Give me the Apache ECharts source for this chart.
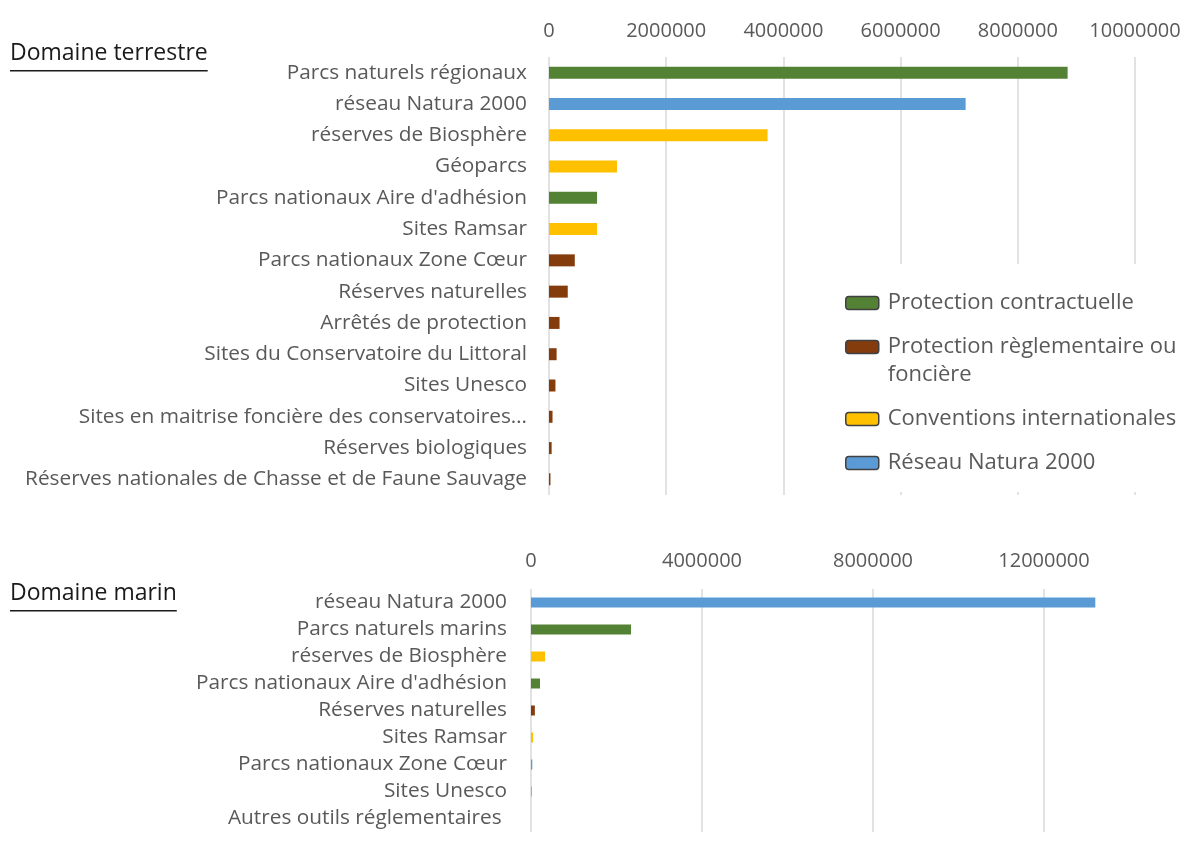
<!DOCTYPE html>
<html>
<head>
<meta charset="utf-8">
<script src="https://cdn.jsdelivr.net/npm/echarts@6/dist/echarts.min.js"></script>
<style>
  html, body { margin: 0; padding: 0; background: #fff; }
  #chart { width: 1186px; height: 852px; }
</style>
</head>
<body>
<div id="chart"></div>
<script>
// domaine terrestre
const terreCats = ['Parcs naturels régionaux', 'réseau Natura 2000', 'réserves de Biosphère', 'Géoparcs',
  "Parcs nationaux Aire d'adhésion", 'Sites Ramsar', 'Parcs nationaux Zone Cœur', 'Réserves naturelles',
  'Arrêtés de protection', 'Sites du Conservatoire du Littoral', 'Sites Unesco',
  'Sites en maitrise foncière des conservatoires…', 'Réserves biologiques',
  'Réserves nationales de Chasse et de Faune Sauvage'];
const terreContract = [8850000, null, null, null, 820000, null, null, null, null, null, null, null, null, null];
const terreRegl = [null, null, null, null, null, null, 440000, 320000, 180000, 130000, 110000, 60000, 45000, 25000];
const terreConv = [null, null, 3730000, 1160000, null, 820000, null, null, null, null, null, null, null, null];
const terreNatura = [null, 7110000, null, null, null, null, null, null, null, null, null, null, null, null];

// domaine marin
const marinCats = ['réseau Natura 2000', 'Parcs naturels marins', 'réserves de Biosphère',
  "Parcs nationaux Aire d'adhésion", 'Réserves naturelles', 'Sites Ramsar',
  'Parcs nationaux Zone Cœur', 'Sites Unesco', 'Autres outils réglementaires '];
const marinContract = [null, 2340000, null, 210000, null, null, null, null, null];
const marinRegl = [null, null, null, null, 90000, null, null, null, 0];
const marinConv = [null, null, 330000, null, null, 50000, null, null, null];
const marinNatura = [13200000, null, null, null, null, null, 30000, 15000, null];

const legendNames = ['Protection contractuelle', 'Protection règlementaire ou\nfoncière',
  'Conventions internationales', 'Réseau Natura 2000'];
const colors = ['#548235', '#843C0C', '#FFC000', '#5B9BD5'];
const titles = ['Domaine terrestre', 'Domaine marin'];

let chart = echarts.init(document.getElementById('chart'));
const font = 'Open Sans';
const labelColor = '#595959';

// largeur du texte pour le soulignement des titres
let ctx = document.createElement('canvas').getContext('2d');
ctx.font = '23px "' + font + '"';

function valueAxis(gridIndex, max, interval, margin) {
  return {
    type: 'value', gridIndex: gridIndex, position: 'top', min: 0, max: max, interval: interval,
    axisLine: {show: false}, axisTick: {show: false},
    splitLine: {show: true, lineStyle: {color: '#d9d9d9', width: 1.5}},
    axisLabel: {color: labelColor, fontSize: 20, fontFamily: font, margin: margin,
      formatter: v => v >= 16000000 ? '' : String(v)}
  };
}
function catAxis(gridIndex, cats, margin) {
  return {
    type: 'category', gridIndex: gridIndex, data: cats, inverse: true,
    axisLine: {show: false}, axisTick: {show: false},
    axisLabel: {color: labelColor, fontSize: 20.8, fontFamily: font, margin: margin, interval: 0}
  };
}
function bars(gridIndex, datas, width) {
  return datas.map((d, i) => ({
    name: legendNames[i], type: 'bar', stack: 'g' + gridIndex,
    xAxisIndex: gridIndex, yAxisIndex: gridIndex,
    barWidth: width, itemStyle: {color: colors[i]}, data: d
  }));
}
function titleGraphic(text, y) {
  let w = ctx.measureText(text).width;
  return {
    type: 'group', left: 10, top: y,
    children: [
      {type: 'text', x: 0, y: 0, style: {text: text, fill: '#1a1a1a', fontSize: 23, fontFamily: font}},
      {type: 'rect', x: 0, y: 28, shape: {width: w, height: 1.5}, style: {fill: '#1a1a1a'}}
    ]
  };
}

// padding des textes de légende (espacement vertical comme l'original)
const legendPads = [[0, 0, 0, 4], [0, 0, 0, 4], [28, 0, 28, 4], [0, 0, 0, 4]];

let option = {
  animation: false,
  textStyle: {fontFamily: font},
  graphic: [titleGraphic(titles[0], 42), titleGraphic(titles[1], 582)],
  grid: [
    {left: 549, top: 57, width: 586, height: 438, outerBoundsMode: 'none'},
    {left: 531, top: 589, width: 684, height: 243, outerBoundsMode: 'none'}
  ],
  xAxis: [valueAxis(0, 10000000, 2000000, 16), valueAxis(1, 16000000, 4000000, 18)],
  yAxis: [catAxis(0, terreCats, 22), catAxis(1, marinCats, 24)],
  legend: {
    orient: 'vertical', left: 830, top: 264, padding: [25, 10, 15, 15],
    backgroundColor: '#fff', itemWidth: 33, itemHeight: 13, itemGap: -12,
    data: legendNames.map((n, i) => ({name: n, textStyle: {padding: legendPads[i]}})),
    // ligne vide en tête : l'icône s'aligne sur la première ligne du texte
    formatter: name => name === legendNames[1] ? '\n' + name : name,
    itemStyle: {borderColor: '#404040', borderWidth: 1.5},
    textStyle: {color: labelColor, fontSize: 22, fontFamily: font, lineHeight: 28}
  },
  series: [].concat(
    bars(0, [terreContract, terreRegl, terreConv, terreNatura], 12),
    bars(1, [marinContract, marinRegl, marinConv, marinNatura], 10)
  )
};

chart.setOption(option);
</script>
</body>
</html>
